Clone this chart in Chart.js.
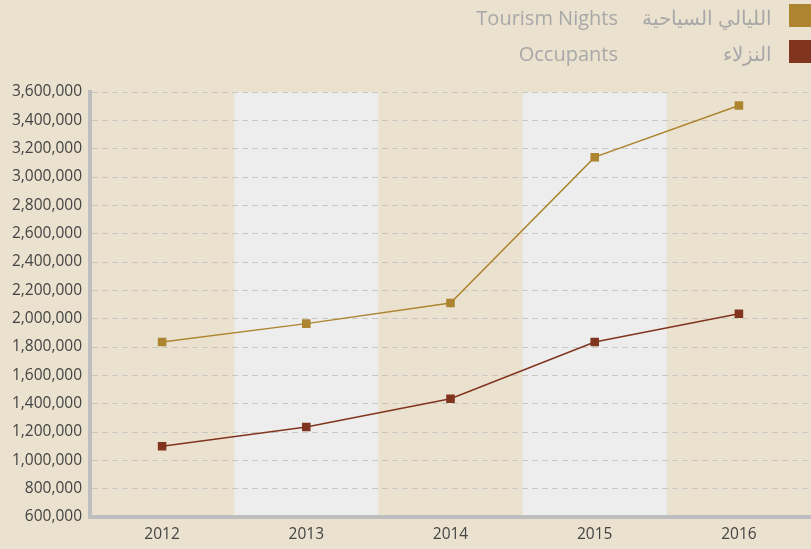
<!DOCTYPE html>
<html lang="en">
<head>
    <meta charset="UTF-8">
    <title>Tourism Nights / Occupants</title>
    <script src="https://cdn.jsdelivr.net/npm/chart.js@4.4.0/dist/chart.umd.min.js"></script>
    <style>
        html, body { margin: 0; padding: 0; background: #eae1cf; }
        #wrap { position: relative; width: 811px; height: 549px; font-family: "Open Sans", sans-serif; }
        .lg { position: absolute; color: #a8a8a8; font-size: 20px; line-height: 24px; white-space: nowrap; }
        .box { position: absolute; right: 0; width: 22px; height: 23px; }
    </style>
</head>
<body>
<div id="wrap">
    <!-- legend -->
    <span class="lg" style="right:193px; top:6px;">Tourism Nights</span>
    <span class="lg" dir="rtl" style="right:39px; top:6px;">الليالي السياحية</span>
    <div class="box" style="top:4px; background:#ad8530;"></div>
    <span class="lg" style="right:193px; top:42px;">Occupants</span>
    <span class="lg" dir="rtl" style="right:39px; top:42px;">النزلاء</span>
    <div class="box" style="top:40px; background:#81351f;"></div>
    <canvas id="chart" width="811" height="549"></canvas>
</div>

<script>
    // data
    const years = ['2012', '2013', '2014', '2015', '2016'];
    const tourismNights = [1835000, 1965000, 2110000, 3140000, 3505000];
    const occupants = [1100000, 1235000, 1435000, 1835000, 2035000];
    const yTicks = [600000, 800000, 1000000, 1200000, 1400000, 1600000, 1800000,
        2000000, 2200000, 2400000, 2600000, 2800000, 3000000, 3200000, 3400000, 3600000];

    // alternating light column behind every second year
    const bandPlugin = {
        id: 'bands',
        beforeDraw(chart) {
            const { ctx, chartArea, scales } = chart;
            const x = scales.x;
            const half = (x.getPixelForValue(1) - x.getPixelForValue(0)) / 2;
            ctx.save();
            ctx.fillStyle = '#ededed';
            years.forEach((y, i) => {
                if (i % 2 === 1) {
                    const c = x.getPixelForValue(i);
                    ctx.fillRect(c - half, chartArea.top, half * 2, chartArea.bottom - chartArea.top);
                }
            });
            ctx.restore();
        }
    };

    const tickFont = { family: 'Open Sans', size: 15.5 };

    new Chart(document.getElementById('chart'), {
        type: 'line',
        data: {
            labels: years,
            datasets: [{
                label: 'Tourism Nights',
                data: tourismNights,
                borderColor: '#ad8530',
                backgroundColor: '#ad8530',
                borderWidth: 1.5,
                pointStyle: 'rect',
                pointRadius: 5,
                pointHoverRadius: 5,
                tension: 0
            }, {
                label: 'Occupants',
                data: occupants,
                borderColor: '#81351f',
                backgroundColor: '#81351f',
                borderWidth: 1.5,
                pointStyle: 'rect',
                pointRadius: 5,
                pointHoverRadius: 5,
                tension: 0
            }]
        },
        options: {
            responsive: false,
            animation: false,
            devicePixelRatio: 1,
            layout: { autoPadding: false, padding: { top: 92, left: 0, right: 0, bottom: 0 } },
            plugins: {
                legend: { display: false },
                tooltip: { enabled: false }
            },
            scales: {
                x: {
                    offset: true,
                    grid: { display: false, drawTicks: false },
                    border: { display: true, color: '#bebebe', width: 4 },
                    ticks: {
                        color: '#444',
                        padding: 8,
                        font: tickFont
                    },
                    afterFit(scale) { scale.height = 549 - 517; }
                },
                y: {
                    min: 600000,
                    max: 3600000,
                    afterBuildTicks(scale) { scale.ticks = yTicks.map(v => ({ value: v })); },
                    grid: { color: '#c9c7c2', lineWidth: 1, drawTicks: false },
                    border: { display: true, color: '#bebebe', width: 4, dash: [6, 4] },
                    ticks: {
                        color: '#444',
                        padding: 8,
                        font: tickFont,
                        callback: v => v.toLocaleString('en-US')
                    },
                    afterFit(scale) { scale.width = 90; }
                }
            }
        },
        plugins: [bandPlugin]
    });
</script>
</body>
</html>
